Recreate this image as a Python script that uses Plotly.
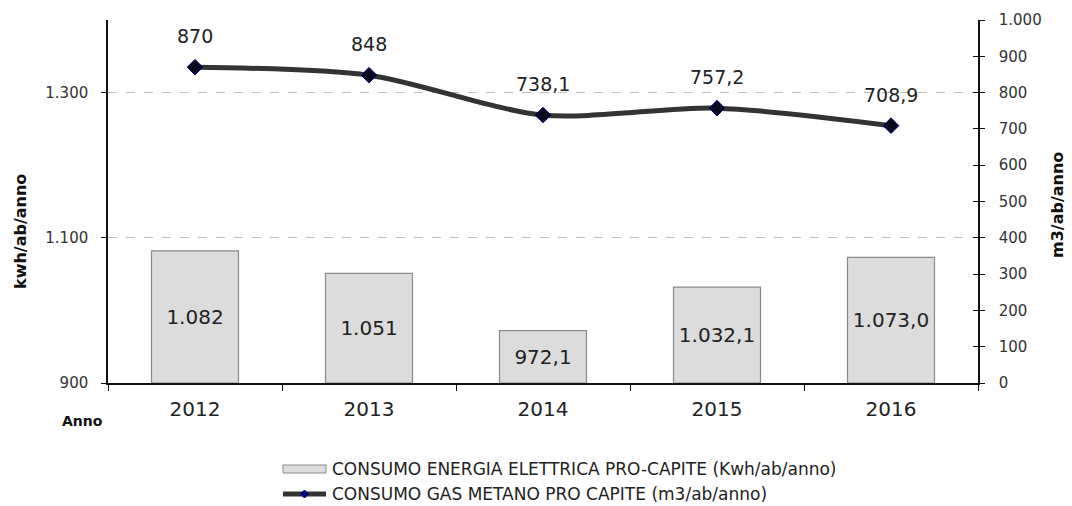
import numpy as np
import plotly.graph_objects as go

# Annual per-capita consumption
anni = ["2012", "2013", "2014", "2015", "2016"]
energia_kwh = [1082, 1051, 972.1, 1032.1, 1073.0]
energia_decimali = [0, 0, 1, 1, 1]
gas_m3 = [870, 848, 738.1, 757.2, 708.9]
gas_decimali = [0, 0, 1, 1, 1]

NOME_ENERGIA = "CONSUMO ENERGIA ELETTRICA PRO-CAPITE (Kwh/ab/anno)"
NOME_GAS = "CONSUMO GAS METANO PRO CAPITE (m3/ab/anno)"

SINISTRA_MIN, SINISTRA_MAX = 900, 1400
DESTRA_MIN, DESTRA_MAX = 0, 1000

FONT = "DejaVu Sans"
W, H = 1072, 506
M_L, M_R, M_T, M_B = 108, 94, 20, 123
PW, PH = W - M_L - M_R, H - M_T - M_B


def px_x(px):
    """Horizontal page pixel -> paper fraction."""
    return (px - M_L) / PW


def px_y(py):
    """Vertical page pixel (from top) -> paper fraction."""
    return (H - M_B - py) / PH


def fmt_it(v, dec):
    """Italian number format: '.' thousands, ',' decimals."""
    s = f"{v:,.{dec}f}"
    return s.replace(",", "_").replace(".", ",").replace("_", ".")


BAR_FILL, BAR_EDGE = "#dcdcdc", "#8a8a8a"
LINE_COL, MARK_FILL, MARK_EDGE = "#333333", "#0a0a1e", "#000080"

fig = go.Figure()

# Electricity bars start at the left axis minimum
base = np.full(len(anni), SINISTRA_MIN, dtype=float)
fig.add_trace(go.Bar(
    x=anni,
    y=np.array(energia_kwh) - base,
    base=base,
    width=0.5,
    name=NOME_ENERGIA,
    marker=dict(color=BAR_FILL, line=dict(color=BAR_EDGE, width=1.2)),
    text=[fmt_it(v, d) for v, d in zip(energia_kwh, energia_decimali)],
    textposition="inside",
    insidetextanchor="middle",
    textangle=0,
    textfont=dict(family=FONT, size=20, color="#222222"),
    yaxis="y",
))

# Gas line on the secondary axis
fig.add_trace(go.Scatter(
    x=anni,
    y=gas_m3,
    name=NOME_GAS,
    mode="lines+markers",
    line=dict(color=LINE_COL, width=5, shape="spline", smoothing=0.8),
    marker=dict(symbol="diamond", size=12, color=MARK_FILL,
                line=dict(color=MARK_EDGE, width=1)),
    yaxis="y2",
))

# Value labels above the gas points
for i, (v, d) in enumerate(zip(gas_m3, gas_decimali)):
    fig.add_annotation(
        x=i, y=v, xref="x", yref="y2", yshift=31,
        text=fmt_it(v, d), showarrow=False,
        font=dict(family=FONT, size=19, color="#222222"),
    )

# Axis titles and the category label
titoli = [
    ("<b>Anno</b>", 82, 421, 0, 14),
    ("<b>kwh/ab/anno</b>", 20, 232, -90, 16),
    ("<b>m3/ab/anno</b>", 1058, 205, -90, 16),
]
for testo, x, y, ang, size in titoli:
    fig.add_annotation(
        x=px_x(x), y=px_y(y), xref="paper", yref="paper", text=testo,
        xanchor="center", yanchor="middle", textangle=ang,
        showarrow=False, font=dict(family=FONT, size=size, color="#111111"),
    )

# Legend drawn below the plot
leg_x0, leg_x1, leg_txt = 283, 326, 330
leg_y_bar, leg_y_line = 469, 494
fig.add_shape(type="rect", xref="paper", yref="paper",
              x0=px_x(leg_x0), x1=px_x(leg_x1),
              y0=px_y(leg_y_bar - 4), y1=px_y(leg_y_bar + 4),
              fillcolor=BAR_FILL, line=dict(color=BAR_EDGE, width=1))
fig.add_shape(type="line", xref="paper", yref="paper",
              x0=px_x(leg_x0), x1=px_x(leg_x1),
              y0=px_y(leg_y_line), y1=px_y(leg_y_line),
              line=dict(color=LINE_COL, width=5))
cx, r = (leg_x0 + leg_x1) / 2, 4
fig.add_shape(type="path", xref="paper", yref="paper",
              path=(f"M {px_x(cx - r)} {px_y(leg_y_line)} "
                    f"L {px_x(cx)} {px_y(leg_y_line - r)} "
                    f"L {px_x(cx + r)} {px_y(leg_y_line)} "
                    f"L {px_x(cx)} {px_y(leg_y_line + r)} Z"),
              fillcolor=MARK_EDGE, line=dict(color=MARK_EDGE, width=1))
for nome, y in [(NOME_ENERGIA, leg_y_bar), (NOME_GAS, leg_y_line)]:
    fig.add_annotation(
        x=px_x(leg_txt), y=px_y(y), xref="paper", yref="paper", text=nome,
        xanchor="left", yanchor="middle", showarrow=False,
        font=dict(family=FONT, size=17, color="#222222"),
    )

fig.update_layout(
    width=W, height=H,
    margin=dict(l=M_L, r=M_R, t=M_T, b=M_B, autoexpand=False),
    paper_bgcolor="white", plot_bgcolor="white",
    separators=",.",
    font=dict(family=FONT, color="#222222"),
    showlegend=False,
    xaxis=dict(
        type="category", range=[-0.5, len(anni) - 0.5], automargin=False,
        showline=True, linecolor="#111111", linewidth=1.5,
        ticks="outside", ticklen=6, tickcolor="#111111",
        tickson="boundaries", tickangle=0, ticklabelstandoff=7,
        tickfont=dict(family=FONT, size=20, color="#222222"),
        showgrid=False, zeroline=False,
    ),
    yaxis=dict(
        range=[SINISTRA_MIN, SINISTRA_MAX], dtick=200, tick0=900,
        automargin=False,
        showline=True, linecolor="#111111", linewidth=1.5,
        ticks="outside", ticklen=5, tickcolor="#111111",
        tickformat=",d", ticklabelstandoff=10,
        tickfont=dict(family=FONT, size=15, color="#333333"),
        showgrid=True, gridcolor="#bdbdbd", griddash="dash", gridwidth=1,
        zeroline=False,
    ),
    yaxis2=dict(
        range=[DESTRA_MIN, DESTRA_MAX], dtick=100,
        overlaying="y", side="right", anchor="x", automargin=False,
        showline=True, linecolor="#111111", linewidth=1.5,
        ticks="outside", ticklen=5, tickcolor="#111111",
        tickformat=",d", ticklabelstandoff=11,
        tickfont=dict(family=FONT, size=15, color="#333333"),
        showgrid=False, zeroline=False,
    ),
    # inner half of the right-axis tick marks
    yaxis3=dict(
        range=[DESTRA_MIN, DESTRA_MAX], dtick=100,
        overlaying="y", side="right", anchor="x", automargin=False,
        ticks="inside", ticklen=5, tickcolor="#111111",
        showticklabels=False, showgrid=False, zeroline=False, showline=False,
    ),
)

# invisible trace that puts the third axis on the page
fig.add_trace(go.Scatter(x=[anni[0]], y=[DESTRA_MIN], yaxis="y3",
                         mode="markers", marker=dict(opacity=0),
                         showlegend=False, hoverinfo="skip"))

fig.write_html("out.html")
